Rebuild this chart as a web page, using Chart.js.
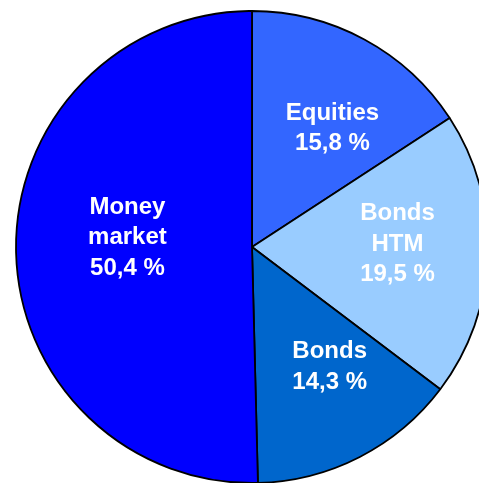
<!DOCTYPE html>
<html>
<head>
<meta charset="utf-8">
<script src="https://cdn.jsdelivr.net/npm/chart.js@4/dist/chart.umd.min.js"></script>
<style>
  html, body { margin: 0; padding: 0; background: #fff; overflow: hidden; }
  body { width: 479px; height: 483px; position: relative; }
  #wrap { position: absolute; left: 12px; top: 7px; width: 480px; height: 480px; }
</style>
</head>
<body>
<div id="wrap"><canvas id="canvas-pie-chart" width="480" height="480"></canvas></div>
<script>
// portfolio breakdown, clockwise from 12 o'clock
const categories = ['Equities', 'Bonds HTM', 'Bonds', 'Money market'];
const shares = [15.8, 19.5, 14.3, 50.4];
const sliceColors = ['#3366FF', '#99CCFF', '#0066CC', '#0000FF'];

// label placement: fraction of radius along the slice mid angle, plus a small nudge
const labelRadius = [0.6, 0.6, 0.6, 0.6];
const labelNudge = [[13, 6], [4, -8], [13, -6], [17, -11]];

const sliceLabels = {
  id: 'sliceLabels',
  afterDatasetsDraw(chart) {
    const ctx = chart.ctx;
    const meta = chart.getDatasetMeta(0);
    ctx.save();
    ctx.fillStyle = '#fff';
    ctx.font = 'bold 24px "Liberation Sans", Arial, sans-serif';
    ctx.textAlign = 'center';
    ctx.textBaseline = 'middle';
    meta.data.forEach((arc, i) => {
      const p = arc.getProps(['x', 'y', 'startAngle', 'endAngle', 'outerRadius'], true);
      const mid = (p.startAngle + p.endAngle) / 2;
      const r = p.outerRadius * labelRadius[i];
      const x = p.x + r * Math.cos(mid) + labelNudge[i][0];
      const y = p.y + r * Math.sin(mid) + labelNudge[i][1];
      const lines = categories[i].split(' ');
      lines.push(shares[i].toFixed(1).replace('.', ',') + ' %');
      const lh = 30.5;
      const top = y - (lines.length - 1) * lh / 2;
      lines.forEach((t, k) => ctx.fillText(t, x, top + k * lh));
    });
    ctx.restore();
  }
};

const ctx = document.getElementById('canvas-pie-chart');
const pie = new Chart(ctx, {
  type: 'pie',
  data: {
    labels: categories,
    datasets: [{
      data: shares,
      backgroundColor: sliceColors,
      borderColor: '#000',
      borderWidth: 1.8,
    }],
  },
  options: {
    responsive: false,
    animation: false,
    radius: 236,
    plugins: {
      legend: { display: false },
      tooltip: { enabled: false },
    },
  },
  plugins: [sliceLabels],
});
</script>
</body>
</html>
